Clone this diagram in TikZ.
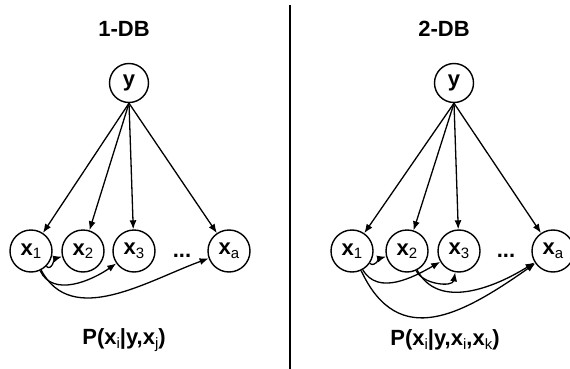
\documentclass[tikz,border=0pt]{standalone}
\usepackage{fontspec}
\setmainfont{Liberation Sans}
\usetikzlibrary{arrows,arrows.meta}
\newcommand{\lbl}[2]{#1\raisebox{-0.3ex}{\fontsize{15}{15}\selectfont\mdseries #2}}

\begin{document}
\begin{tikzpicture}[x=1pt, y=-1pt,
    var/.style={draw, circle, line width=1.4pt, minimum size=42pt, inner sep=0pt, font=\fontsize{22}{24}\selectfont\bfseries},
    edge/.style={-{Latex[length=9pt,width=7pt]}, line width=1.3pt},
    txt/.style={font=\fontsize{22}{24}\selectfont\bfseries}]
  \useasboundingbox (0,0) rectangle (570,369);
  % left: 1-DB
  \node[txt] (t1) at (124,29) {1-DB};
  \node[var, minimum size=39pt] (y1) at (129,83) {y};
  \node[var] (a1) at (31,251) {\lbl{x}{1}};
  \node[var] (a2) at (83,251) {\lbl{x}{2}};
  \node[var] (a3) at (134,251) {\lbl{x}{3}};
  \node[txt, anchor=base] (d1) at (182,257) {...};
  \node[var] (aa) at (229,251) {\lbl{x}{a}};
  \foreach \n in {a1,a2,a3,aa}
    \draw[edge] (y1.south) -- (\n);
  \draw[edge] (a1) to[out=-45, in=195] (a2);
  \draw[edge] (a1) to[out=-65, in=215] (a3);
  \draw[edge] (a1) to[out=-62, in=200] (aa);
  \node[txt] (f1) at (124,340) {P(\lbl{x}{i}|y,\lbl{x}{j})};
  % divider
  \draw[line width=2.5pt] (290,5) -- (290,369);
  % right: 2-DB
  \node[txt] (t2) at (444,29) {2-DB};
  \node[var, minimum size=39pt] (y2) at (454,83) {y};
  \node[var] (b1) at (352,251) {\lbl{x}{1}};
  \node[var] (b2) at (407,251) {\lbl{x}{2}};
  \node[var] (b3) at (459,251) {\lbl{x}{3}};
  \node[txt, anchor=base] (d2) at (506,257) {...};
  \node[var] (ba) at (553,251) {\lbl{x}{a}};
  \foreach \n in {b1,b2,b3,ba}
    \draw[edge] (y2.south) -- (\n);
  \draw[edge] (b1) to[out=-35, in=195] (b2);
  \draw[edge] (b1) to[out=-60, in=210] (b3);
  \draw[edge] (b1) to[out=-65, in=215, looseness=1.3] (ba);
  \draw[edge] (b2) to[out=-65, in=-100] (b3);
  \draw[edge] (b2) to[out=-62, in=212] (ba);
  \node[txt] (f2) at (445,340) {P(\lbl{x}{i}|y,\lbl{x}{i},\lbl{x}{k})};
\end{tikzpicture}
\end{document}
